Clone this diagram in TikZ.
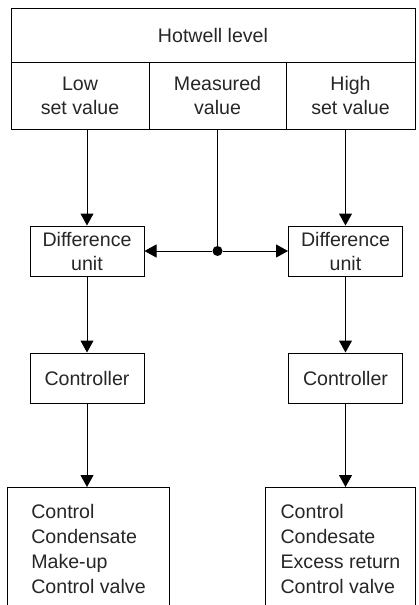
\documentclass[tikz,border=0pt]{standalone}
\usepackage{fontspec}
\setmainfont{Liberation Sans}
\usepackage{tikz}
\usetikzlibrary{arrows.meta,positioning}

\begin{document}
\begin{tikzpicture}[
  x=1pt,y=-1pt,
  node distance=76pt,
  line width=1pt,
  >={Triangle[length=12pt,width=13pt]},
  font=\fontsize{19.6}{24}\selectfont,
  text=black!85,
  cell/.style={rectangle,draw,align=center,inner sep=0pt,outer sep=0pt,minimum height=67pt},
  blk/.style={rectangle,draw,align=center,inner sep=0pt,minimum width=114pt,minimum height=50pt},
  outbox/.style={rectangle,draw,align=left,anchor=north west,inner ysep=17pt,text depth=40pt,font=\fontsize{19.6}{25}\selectfont}
]
  \useasboundingbox (0,0) rectangle (418,605);
  \clip (0,0) rectangle (418,605);

  % top panel
  \node[cell,minimum width=404pt,minimum height=54pt,anchor=north west] (hot) at (11,8) {Hotwell level};
  \node[cell,minimum width=138pt,below right=0pt of hot.south west] (low) {Low\\set value};
  \node[cell,minimum width=137pt,right=0pt of low] (meas) {Measured\\value};
  \node[cell,minimum width=129pt,right=0pt of meas] (high) {High\\set value};

  % difference units and controllers
  \node[blk] (ldiff) at (87,251) {Difference\\unit};
  \node[blk] (rdiff) at (345.5,251) {Difference\\unit};
  \node[blk,below=of ldiff] (lctrl) {Controller};
  \node[blk,below=of rdiff] (rctrl) {Controller};

  % control valves
  \node[outbox,minimum width=162pt] (lvalve) at (7,487) {Control\\Condensate\\Make-up\\Control valve};
  \node[outbox,minimum width=150pt] (rvalve) at (265,487) {Control\\Condesate\\Excess return\\Control valve};

  \node[circle,fill=black,inner sep=0pt,minimum size=10pt] (dot) at (meas.south |- ldiff.east) {};

  \draw[->] (ldiff.north |- low.south) -- (ldiff);
  \draw[->] (rdiff.north |- high.south) -- (rdiff);
  \draw (meas) -- (dot);
  \draw[->] (dot) -- (ldiff);
  \draw[->] (dot) -- (rdiff);
  \draw[->] (ldiff) -- (lctrl);
  \draw[->] (rdiff) -- (rctrl);
  \draw[->] (lctrl.south) -- (lctrl.south |- lvalve.north);
  \draw[->] (rctrl.south) -- (rctrl.south |- rvalve.north);
\end{tikzpicture}
\end{document}
